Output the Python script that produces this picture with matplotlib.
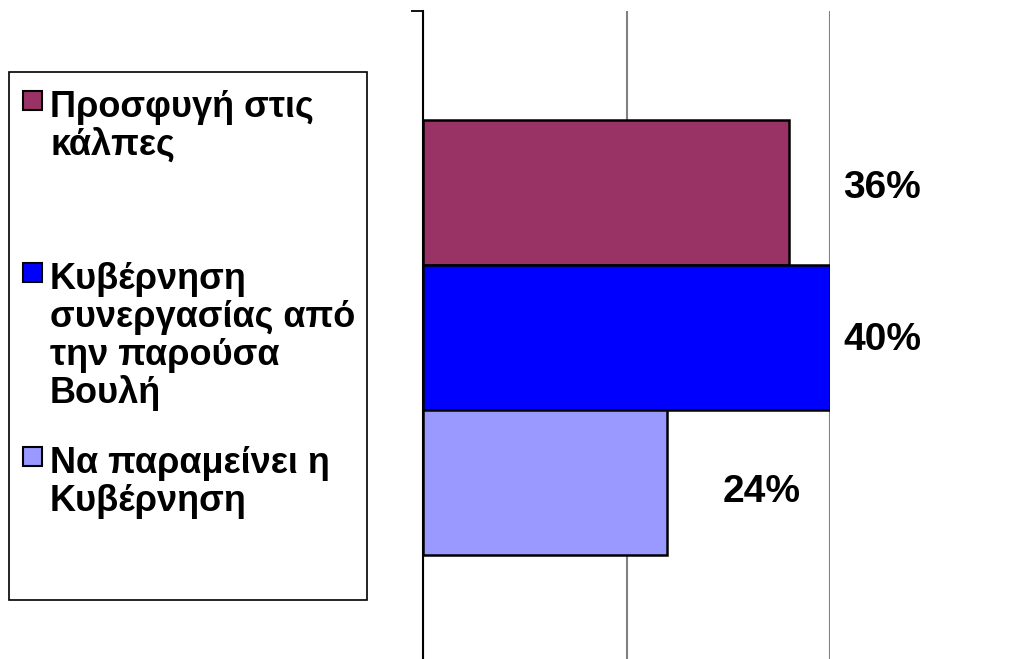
import matplotlib.pyplot as plt
from matplotlib.patches import Rectangle

plt.rcParams['font.family'] = ['Liberation Sans', 'DejaVu Sans']

# data
categories = ['Προσφυγή στις\nκάλπες',
              'Κυβέρνηση\nσυνεργασίας από\nτην παρούσα\nΒουλή',
              'Να παραμείνει η\nΚυβέρνηση']
values = [0.36, 0.40, 0.24]
value_labels = ['36%', '40%', '24%']
colors = ['#993366', '#0000FF', '#9999FF']

W, H = 1021, 659
fig = plt.figure(figsize=(W / 100, H / 100), dpi=100)

# plot area in pixels: x 423..830, y 11..664
ax = fig.add_axes([423 / W, (H - 664) / H, (830 - 423) / W, 653 / H])
ax.set_xlim(0, 0.4)
ax.set_ylim(-0.5, 0.5)

bar_h = 145 / 653
n = len(values)
for i, (v, c) in enumerate(zip(values, colors)):
    y = ((n - 1) / 2 - i) * bar_h
    ax.barh(y, v, height=bar_h, color=c, edgecolor='black', linewidth=1.8, zorder=3)

# data labels, offset from bar end (px) like the original layout
lab_dx = [93, 52, 94]
lab_dy = [5, -3, -10]
for i, (v, t) in enumerate(zip(values, value_labels)):
    y = ((n - 1) / 2 - i) * bar_h
    ax.annotate(t, (v, y), xytext=(lab_dx[i] * 0.72, lab_dy[i] * 0.72),
                textcoords='offset points', ha='center', va='center',
                fontsize=28, fontweight='bold', annotation_clip=False)

ax.set_xticks([0, 0.2, 0.4])
ax.xaxis.grid(True, color='#808080', linewidth=1.5, zorder=0)
ax.tick_params(axis='x', length=0, labelbottom=False)
ax.set_yticks([-0.5, 0.5])
ax.tick_params(axis='y', length=8.5, width=1.3, labelleft=False)
for s in ['top', 'right', 'bottom']:
    ax.spines[s].set_visible(False)
ax.spines['left'].set_linewidth(1.5)

# legend box drawn by hand
fig.patches.append(Rectangle((9 / W, (H - 600) / H), 358 / W, 528 / H,
                             transform=fig.transFigure, fill=False,
                             edgecolor='black', linewidth=1.2))
baselines = [117, 289, 473]
line_gap = 38
for i, (lab, c) in enumerate(zip(categories, colors)):
    b = baselines[i]
    fig.patches.append(Rectangle((23 / W, (H - b + 7) / H), 19 / W, 19 / H,
                                 transform=fig.transFigure, facecolor=c,
                                 edgecolor='black', linewidth=1.5))
    for k, line in enumerate(lab.split('\n')):
        fig.text(50 / W, (H - b - k * line_gap) / H, line, fontsize=26,
                 fontweight='bold', ha='left', va='baseline')

fig.savefig('out.png', dpi=100)
